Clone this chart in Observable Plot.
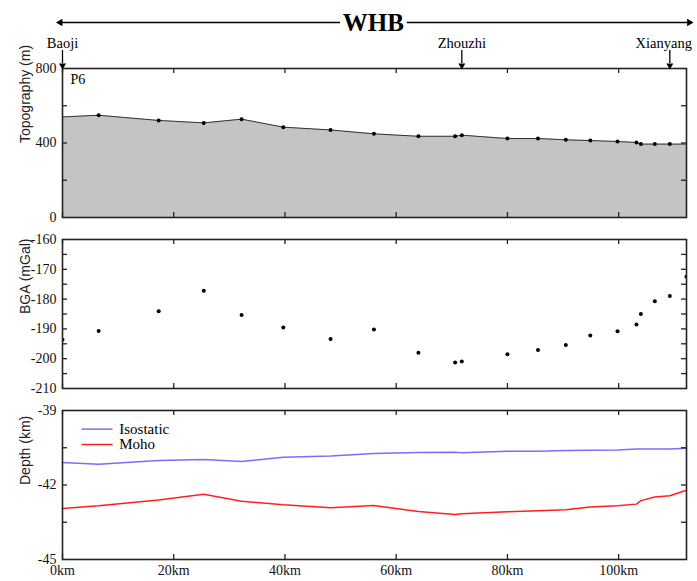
<!DOCTYPE html>
<html><head><meta charset="utf-8">
<script src="https://cdn.jsdelivr.net/npm/d3@7"></script>
<script src="https://cdn.jsdelivr.net/npm/@observablehq/plot@0.6"></script>
<style>body{margin:0;background:#fff} #chart svg{display:block}</style>
</head><body><div id="chart"></div>
<script>
// ---- data ----
const stationKm = [6.5, 17.3, 25.4, 32.2, 39.7, 48.2, 56.0, 64.0, 70.6, 71.8, 80.0, 85.5, 90.5, 94.9, 99.8, 103.2, 104.0, 106.5, 109.2];
const topography = [549, 521, 508, 528, 485, 470, 449, 436, 436, 442, 424, 424, 417, 413, 408, 403, 394, 394, 394];
const profileStartKm = 0, profileEndKm = 112.2;
const topoStart = 540, topoEnd = 394;
const bga = [-190.7, -184.1, -177.2, -185.3, -189.5, -193.4, -190.2, -198.0, -201.3, -200.9, -198.5, -197.1, -195.4, -192.2, -190.8, -188.5, -185.0, -180.7, -179.0];
const bgaStart = -193.6, bgaEnd = -172.5;
const isostatic = [-41.09, -41.16, -41.01, -40.97, -41.05, -40.88, -40.83, -40.73, -40.69, -40.68, -40.70, -40.64, -40.64, -40.61, -40.60, -40.59, -40.55, -40.55, -40.55, -40.55, -40.52];
const moho = [-42.95, -42.84, -42.60, -42.37, -42.65, -42.80, -42.92, -42.83, -43.07, -43.19, -43.16, -43.08, -43.04, -43.00, -42.89, -42.84, -42.77, -42.63, -42.48, -42.43, -42.21];
const cities = ["Baoji", "Zhouzhi", "Xianyang"];
const cityKm = [0, 71.8, 109.2];
const cityLabelKm = [0, 71.8, 108.1];
const basinName = "WHB";
const basinSpan = [-0.4, 112.7];
const basinGap = [49.9, 61.9];
const xTickValues = [0, 20, 40, 60, 80, 100];
const topoLabels = [0, 400, 800], topoTicks = [200, 400, 600];
const bgaLabels = [-160, -170, -180, -190, -200, -210];
const bgaTicks = [-165, -170, -175, -180, -185, -190, -195, -200, -205];
const depthLabels = [-39, -42, -45], depthTicks = [-40.5, -42, -43.5];
const seriesNames = ["Isostatic", "Moho"];
const seriesColors = ["#7b6cff", "#ff1f1f"];

// ---- derived tables ----
const profileKm = [profileStartKm, ...stationKm, profileEndKm];
const topoRows = profileKm.map((k, i) => ({km: k, v: [topoStart, ...topography, topoEnd][i]}));
const topoDots = stationKm.map((k, i) => ({km: k, v: topography[i]}));
const bgaRows = [{km: profileStartKm, v: bgaStart}, ...stationKm.map((k, i) => ({km: k, v: bga[i]})), {km: profileEndKm, v: bgaEnd}];
const isoRows = profileKm.map((k, i) => ({km: k, v: isostatic[i]}));
const mohoRows = profileKm.map((k, i) => ({km: k, v: moho[i]}));
const cityRows = cities.map((n, i) => ({name: n, km: cityKm[i], lk: cityLabelKm[i]}));

const W = 697, ML = 62, MR = 11, FW = W - ML - MR, FH = 149, TL = 5;
const xDomain = [profileStartKm, profileEndKm];
const SERIF = "Liberation Serif";
const style = {fontFamily: SERIF, fontSize: "14px", color: "#000", background: "white", overflow: "visible"};
const ink = "#222";
const fmt = d => String(d);

function boxTicks(yT) {
  return [
    Plot.tickX(xTickValues, {x: d => d, insetTop: FH - TL, stroke: ink, strokeWidth: 1.3}),
    Plot.tickX(xTickValues, {x: d => d, insetBottom: FH - TL, stroke: ink, strokeWidth: 1.3}),
    Plot.tickY(yT, {y: d => d, insetRight: FW - TL, stroke: ink, strokeWidth: 1.3}),
    Plot.tickY(yT, {y: d => d, insetLeft: FW - TL, stroke: ink, strokeWidth: 1.3}),
    Plot.frame({stroke: ink, strokeWidth: 1.6})
  ];
}
function yAxis(labels) {
  return Plot.axisY({ticks: labels, tickSize: 0, tickPadding: 6, label: null, fontSize: 14, fontFamily: SERIF, tickFormat: fmt, fill: "#111"});
}
function yTitle(t) {
  return Plot.text([t], {frameAnchor: "left", dx: -37, rotate: -90, fontFamily: "Liberation Sans", fontSize: 14, fill: "#222"});
}

// Panel 1: topography + header
const headY = 800 + 46 * 800 / FH;
const p1 = Plot.plot({
  width: W, height: 228, marginLeft: ML, marginRight: MR, marginTop: 68, marginBottom: 11,
  x: {domain: xDomain, axis: null}, y: {domain: [0, 800]}, style,
  marks: [
    Plot.areaY(topoRows, {x: "km", y: "v", fill: "#c4c4c4"}),
    Plot.line(topoRows, {x: "km", y: "v", stroke: "#333", strokeWidth: 1}),
    Plot.dot(topoDots, {x: "km", y: "v", r: 2, fill: "#000"}),
    ...boxTicks(topoTicks),
    yAxis(topoLabels),
    Plot.text(["P6"], {frameAnchor: "top-left", dx: 8, dy: 6, lineAnchor: "top", textAnchor: "start", fontSize: 14, fontFamily: SERIF}),
    yTitle("Topography (m)"),
    // header
    Plot.text(cityRows, {x: "lk", text: "name", frameAnchor: "top", dy: -21, lineAnchor: "bottom", fontSize: 14.5, fontFamily: SERIF}),
    Plot.ruleX(cityRows, {x: "km", insetTop: -18, insetBottom: FH + 5, stroke: "#000", strokeWidth: 1.3}),
    Plot.dot(cityRows, {x: "km", frameAnchor: "top", dy: -3, symbol: "triangle", rotate: 180, r: 2.6, fill: "#000", stroke: "none"}),
    Plot.link([{a: basinSpan[0], b: basinGap[0]}, {a: basinGap[1], b: basinSpan[1]}], {x1: "a", x2: "b", y1: headY, y2: headY, stroke: "#000", strokeWidth: 1.5}),
    Plot.dot([{k: basinSpan[0], r: -90}, {k: basinSpan[1], r: 90}], {x: "k", y: headY, rotate: "r", symbol: "triangle", r: 2.8, fill: "#000", stroke: "none"}),
    Plot.text([basinName], {x: (basinGap[0] + basinGap[1]) / 2, y: headY, text: d => d, fontSize: 25, fontWeight: "bold", fontFamily: SERIF})
  ]
});

// Panel 2: BGA
const p2 = Plot.plot({
  width: W, height: 171, marginLeft: ML, marginRight: MR, marginTop: 11, marginBottom: 11,
  x: {domain: xDomain, axis: null}, y: {domain: [-210, -160]}, style,
  marks: [
    Plot.dot(bgaRows, {x: "km", y: "v", r: 2, fill: "#000", clip: true}),
    ...boxTicks(bgaTicks),
    yAxis(bgaLabels),
    yTitle("BGA (mGal)")
  ]
});

// Panel 3: depth
const p3 = Plot.plot({
  width: W, height: 182, marginLeft: ML, marginRight: MR, marginTop: 11, marginBottom: 22,
  x: {domain: xDomain}, y: {domain: [-45, -39]}, style,
  marks: [
    Plot.line(isoRows, {x: "km", y: "v", stroke: seriesColors[0], strokeWidth: 1.5}),
    Plot.line(mohoRows, {x: "km", y: "v", stroke: seriesColors[1], strokeWidth: 1.5}),
    ...boxTicks(depthTicks),
    yAxis(depthLabels),
    Plot.axisX({ticks: xTickValues, tickSize: 0, tickPadding: 6, label: null, tickFormat: d => d + "km", fontSize: 14, fontFamily: SERIF, fill: "#111"}),
    yTitle("Depth (km)"),
    // legend
    Plot.link([0], {x1: 3.4, x2: 9.0, y1: -39.75, y2: -39.75, stroke: seriesColors[0], strokeWidth: 1.5}),
    Plot.link([0], {x1: 3.4, x2: 9.0, y1: -40.37, y2: -40.37, stroke: seriesColors[1], strokeWidth: 1.5}),
    Plot.text([seriesNames[0]], {x: 10.2, y: -39.75, text: d => d, textAnchor: "start", fontSize: 15, fontFamily: SERIF}),
    Plot.text([seriesNames[1]], {x: 10.2, y: -40.37, text: d => d, textAnchor: "start", fontSize: 15, fontFamily: SERIF})
  ]
});

document.getElementById("chart").append(p1, p2, p3);
</script>
</body></html>
